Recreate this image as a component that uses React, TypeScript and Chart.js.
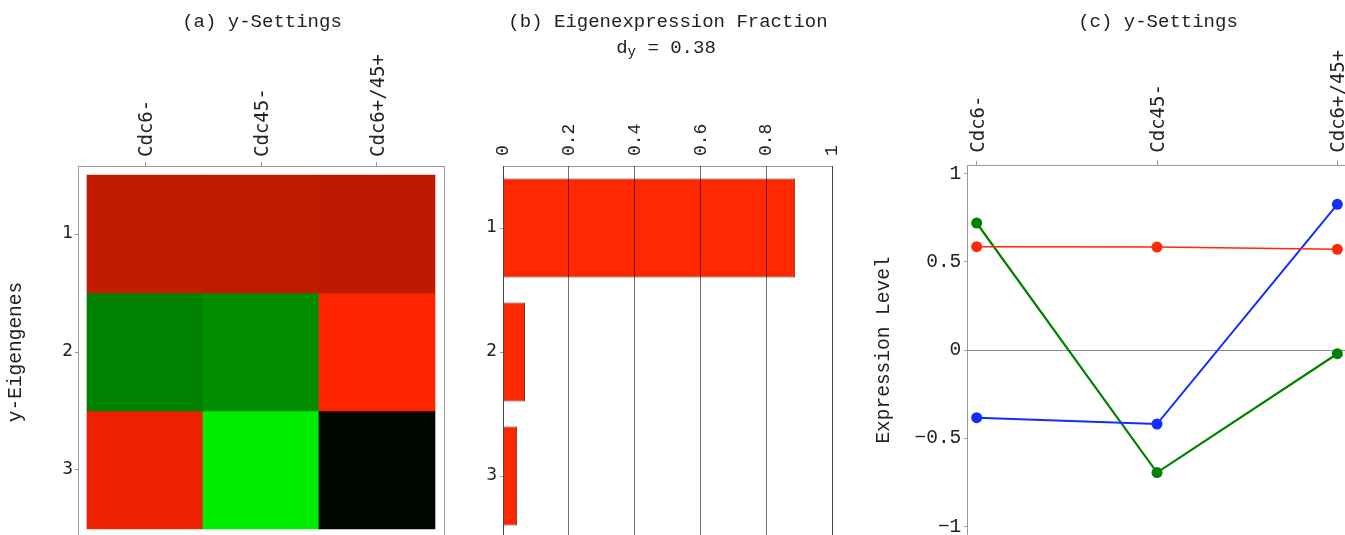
import React, { useEffect, useRef } from 'react';
import { Chart, registerables } from 'chart.js';

Chart.register(...registerables);

// ---------- data ----------
const conditions = ['Cdc6-', 'Cdc45-', 'Cdc6+/45+'];
const eigengeneLabels = ['1', '2', '3'];
const eigengene1 = [0.585, 0.583, 0.57];
const eigengene2 = [-0.383, -0.419, 0.825];
const eigengene3 = [0.719, -0.694, -0.021];
const fractions = [0.888, 0.067, 0.043];
const fractionTicks = [0, 0.2, 0.4, 0.6, 0.8, 1];
const levelTicks = [-1, -0.5, 0, 0.5, 1];
const entropyText = '0.38';

// ---------- styles ----------
const seriesColors = ['rgb(255,40,10)', 'rgb(20,45,255)', 'rgb(0,130,0)'];
const seriesWidths = [1.5, 2, 2.2];
const barColor = 'rgb(255,40,0)';
const frameColor = '#9a9a9a';
const textColor = '#222';
const MONO = "'Liberation Mono', 'Courier New', monospace";
const SANSMONO = "'DejaVu Sans Mono', monospace";
const SANS = "'DejaVu Sans', sans-serif";

function heatColor(v: number): string {
  const a = Math.abs(v);
  if (v >= 0) {
    const c = Math.min(255, Math.round(a * 330));
    return `rgb(${c},${Math.round(c * 0.14)},0)`;
  }
  const g = Math.min(255, Math.round(a * 340));
  return `rgb(0,${g},0)`;
}

function formatLevel(v: number): string {
  if (v === 0) return '0';
  const s = String(Math.abs(v));
  return v < 0 ? '\u2212' + s : s;
}

// fixed axis box sizes, no label-overflow padding
const fixHeight = (h: number) => (s: any) => {
  s.height = h;
  s.paddingLeft = 0;
  s.paddingRight = 0;
  s.paddingTop = 0;
  s.paddingBottom = 0;
};
const fixWidth = (w: number) => (s: any) => {
  s.width = w;
  s.paddingLeft = 0;
  s.paddingRight = 0;
  s.paddingTop = 0;
  s.paddingBottom = 0;
};

const framePlugin = {
  id: 'frame',
  afterDatasetsDraw(chart: any) {
    const { ctx, chartArea: a } = chart;
    ctx.save();
    ctx.strokeStyle = frameColor;
    ctx.lineWidth = 1;
    ctx.strokeRect(
      Math.round(a.left) + 0.5,
      Math.round(a.top) + 0.5,
      Math.round(a.right - a.left),
      Math.round(a.bottom - a.top)
    );
    ctx.restore();
  },
};

type Part = { text: string; size: number; dy?: number };
type Line = { parts: Part[]; y: number; dx?: number };

function makeTitlePlugin(lines: Line[]) {
  return {
    id: 'panelTitle',
    afterDraw(chart: any) {
      const { ctx, chartArea: a } = chart;
      ctx.save();
      ctx.fillStyle = textColor;
      ctx.textBaseline = 'alphabetic';
      ctx.textAlign = 'left';
      for (const line of lines) {
        let total = 0;
        const widths = line.parts.map((p) => {
          ctx.font = `${p.size}px ${MONO}`;
          const w = ctx.measureText(p.text).width;
          total += w;
          return w;
        });
        let x = (a.left + a.right) / 2 + (line.dx || 0) - total / 2;
        line.parts.forEach((p, i) => {
          ctx.font = `${p.size}px ${MONO}`;
          ctx.fillText(p.text, x, line.y + (p.dy || 0));
          x += widths[i];
        });
      }
      ctx.restore();
    },
  };
}

const noLegend = { legend: { display: false }, tooltip: { enabled: false }, title: { display: false } };

export default function App() {
  const refA = useRef<HTMLCanvasElement>(null);
  const refB = useRef<HTMLCanvasElement>(null);
  const refC = useRef<HTMLCanvasElement>(null);

  useEffect(() => {
    const charts: Chart[] = [];

    // ---------- (a) heatmap ----------
    const heatRows = [eigengene1, eigengene2, eigengene3];
    charts.push(
      new Chart(refA.current as HTMLCanvasElement, {
        type: 'bar',
        data: {
          datasets: heatRows.map((row, r) => ({
            data: row.map((v, c) => ({ x: c + 1, y: [r + 0.5, r + 1.5] })),
            backgroundColor: row.map(heatColor),
            borderWidth: 0,
            grouped: false,
            barPercentage: 1,
            categoryPercentage: 1,
          })) as any,
        },
        options: {
          responsive: false,
          animation: false,
          layout: { padding: { left: 0, top: 0, right: 6, bottom: 7 }, autoPadding: false },
          plugins: noLegend as any,
          scales: {
            x: {
              type: 'linear',
              position: 'top',
              offset: false,
              min: 0.4224,
              max: 3.5776,
              afterBuildTicks: (s: any) => {
                s.ticks = conditions.map((_, i) => ({ value: i + 1 }));
              },
              afterFit: fixHeight(166),
              ticks: {
                callback: (v: any) => conditions[Number(v) - 1],
                minRotation: 90,
                maxRotation: 90,
                autoSkip: false,
                padding: 5,
                labelOffset: 25,
                color: textColor,
                font: { family: SANSMONO, size: 19 },
              },
              grid: { drawOnChartArea: false, tickLength: 4, color: frameColor, offset: false },
              border: { display: false },
            },
            y: {
              type: 'linear',
              reverse: true,
              min: 0.4237,
              max: 3.5763,
              afterBuildTicks: (s: any) => {
                s.ticks = eigengeneLabels.map((_, i) => ({ value: i + 1 }));
              },
              afterFit: fixWidth(78),
              ticks: {
                callback: (v: any) => eigengeneLabels[Number(v) - 1],
                padding: 2,
                color: textColor,
                font: { family: SANS, size: 17 },
              },
              grid: { drawOnChartArea: false, tickLength: 3, color: frameColor },
              border: { display: false },
              title: {
                display: true,
                text: 'y-Eigengenes',
                color: textColor,
                font: { family: MONO, size: 19.5 },
                padding: { top: 4, bottom: 0 },
              },
            },
          },
        } as any,
        plugins: [framePlugin, makeTitlePlugin([{ parts: [{ text: '(a) y-Settings', size: 19 }], y: 27, dx: 1 }])],
      })
    );

    // ---------- (b) eigenexpression fraction ----------
    charts.push(
      new Chart(refB.current as HTMLCanvasElement, {
        type: 'bar',
        data: {
          labels: eigengeneLabels,
          datasets: [
            {
              data: fractions,
              backgroundColor: barColor,
              borderColor: 'rgba(70,10,0,0.85)',
              borderWidth: 1,
              barPercentage: 1,
              categoryPercentage: 0.8,
            },
          ],
        },
        options: {
          indexAxis: 'y',
          responsive: false,
          animation: false,
          layout: { padding: { left: 0, top: 0, right: 28, bottom: 7 }, autoPadding: false },
          plugins: noLegend as any,
          scales: {
            x: {
              type: 'linear',
              position: 'top',
              min: 0,
              max: 1,
              afterBuildTicks: (s: any) => {
                s.ticks = fractionTicks.map((v) => ({ value: v }));
              },
              afterFit: fixHeight(166),
              ticks: {
                callback: (v: any) => String(v),
                minRotation: 90,
                maxRotation: 90,
                autoSkip: false,
                padding: 10,
                labelOffset: 22,
                color: textColor,
                font: { family: MONO, size: 18 },
              },
              grid: { color: 'rgba(0,0,0,0.55)', drawTicks: false, z: 1 },
              border: { display: false },
            },
            y: {
              type: 'category',
              afterFit: fixWidth(53),
              ticks: { padding: 3, color: textColor, font: { family: SANS, size: 17 } },
              grid: { drawOnChartArea: false, tickLength: 3, color: frameColor, offset: false },
              border: { display: false },
            },
          },
        } as any,
        plugins: [
          framePlugin,
          makeTitlePlugin([
            { parts: [{ text: '(b) Eigenexpression Fraction', size: 19 }], y: 27, dx: 0.5 },
            {
              parts: [
                { text: 'd', size: 19 },
                { text: 'y', size: 14, dy: 3 },
                { text: ' = ' + entropyText, size: 19 },
              ],
              y: 52.5,
              dx: -1.5,
            },
          ]),
        ],
      })
    );

    // ---------- (c) expression levels ----------
    const series = [eigengene1, eigengene2, eigengene3];
    charts.push(
      new Chart(refC.current as HTMLCanvasElement, {
        type: 'line',
        data: {
          datasets: series.map((vals, i) => ({
            data: vals.map((v, c) => ({ x: c + 1, y: v })),
            borderColor: seriesColors[i],
            backgroundColor: seriesColors[i],
            pointBackgroundColor: seriesColors[i],
            pointBorderWidth: 0,
            pointRadius: 5.5,
            borderWidth: seriesWidths[i],
            tension: 0,
            fill: false,
          })),
        },
        options: {
          responsive: false,
          animation: false,
          layout: { padding: { left: 0, top: 0, right: 13.3, bottom: 9.7 }, autoPadding: false },
          plugins: noLegend as any,
          scales: {
            x: {
              type: 'linear',
              position: 'top',
              min: 0.948,
              max: 3.052,
              afterBuildTicks: (s: any) => {
                s.ticks = conditions.map((_, i) => ({ value: i + 1 }));
              },
              afterFit: fixHeight(164.7),
              ticks: {
                callback: (v: any) => conditions[Number(v) - 1],
                minRotation: 90,
                maxRotation: 90,
                autoSkip: false,
                padding: 8,
                labelOffset: 25,
                color: textColor,
                font: { family: SANSMONO, size: 19 },
              },
              grid: { drawOnChartArea: false, tickLength: 4, color: frameColor },
              border: { display: false },
            },
            y: {
              type: 'linear',
              min: -1.049,
              max: 1.049,
              afterBuildTicks: (s: any) => {
                s.ticks = levelTicks.map((v) => ({ value: v }));
              },
              afterFit: fixWidth(107.3),
              ticks: {
                callback: (v: any) => formatLevel(Number(v)),
                padding: 3,
                color: textColor,
                font: { family: MONO, size: 19.5 },
              },
              grid: {
                color: (ctx: any) => (ctx.tick && ctx.tick.value === 0 ? '#8a8a8a' : 'rgba(0,0,0,0)'),
                tickColor: frameColor,
                tickLength: 3,
              },
              border: { display: false },
              title: {
                display: true,
                text: 'Expression Level',
                color: textColor,
                font: { family: MONO, size: 19.5 },
                padding: { top: 12, bottom: 0 },
              },
            },
          },
        } as any,
        plugins: [framePlugin, makeTitlePlugin([{ parts: [{ text: '(c) y-Settings', size: 19 }], y: 27, dx: 1 }])],
      })
    );

    return () => {
      charts.forEach((c) => c.destroy());
    };
  }, []);

  const canvasStyle = (left: number, width: number): React.CSSProperties => ({
    position: 'absolute',
    left,
    top: 0,
    width,
    height: 545,
  });

  return (
    <div
      style={{
        position: 'absolute',
        left: 0,
        top: 0,
        width: 1345,
        height: 535,
        overflow: 'hidden',
        background: '#fff',
      }}
    >
      <canvas ref={refA} width={450} height={545} style={canvasStyle(0, 450)} />
      <canvas ref={refB} width={410} height={545} style={canvasStyle(450, 410)} />
      <canvas ref={refC} width={500} height={545} style={canvasStyle(860, 500)} />
    </div>
  );
}
